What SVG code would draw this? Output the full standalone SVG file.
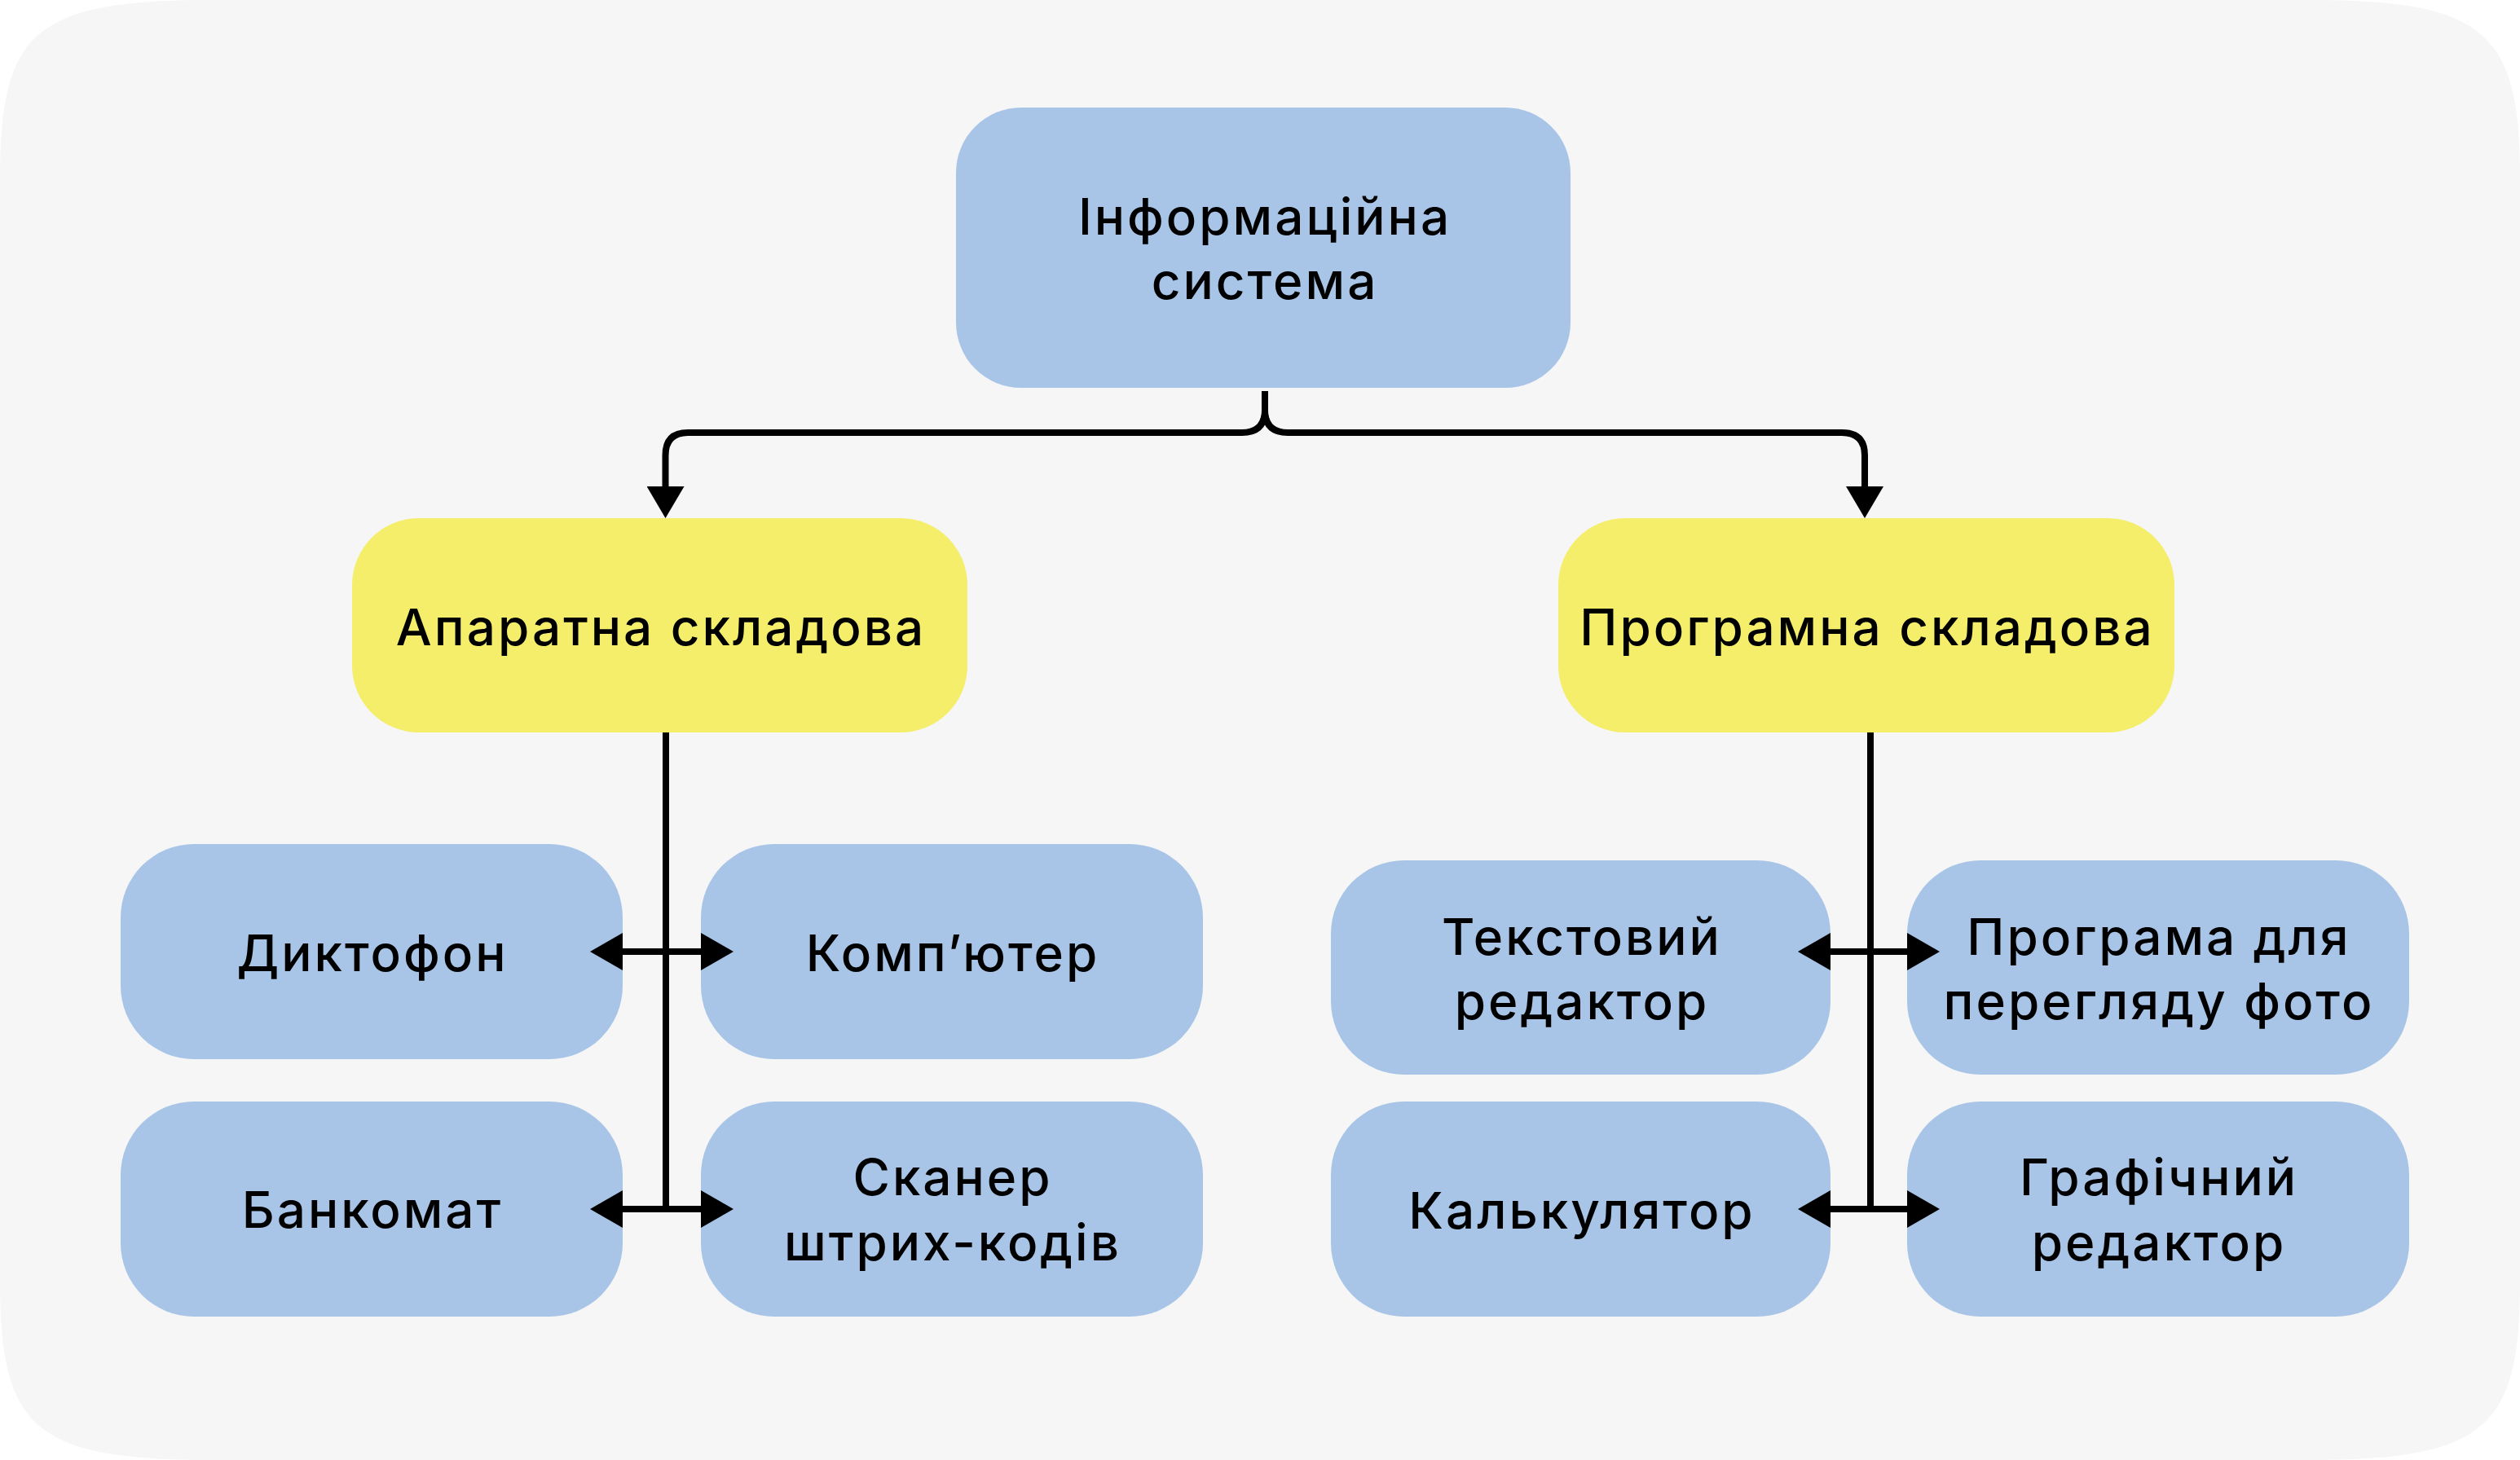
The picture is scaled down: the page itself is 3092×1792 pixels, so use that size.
<svg xmlns="http://www.w3.org/2000/svg" width="3092" height="1792" viewBox="0 0 3092 1792">
  <style>
    .bg { fill: #f6f6f6; }
    .blue { fill: #a8c5e8; }
    .yellow { fill: #f4ee6a; }
    .lbl { font-family: Inter, "Liberation Sans", "Noto Sans", sans-serif; font-size: 62px; font-weight: 500; letter-spacing: 3px; fill: #000; text-anchor: middle; }
    .conn { fill: none; stroke: #000; stroke-width: 8; }
  </style>
  <defs>
    <marker id="ah" markerUnits="userSpaceOnUse" markerWidth="40" markerHeight="46" refX="0" refY="23" orient="auto-start-reverse" viewBox="0 0 40 46">
      <path d="M0,0 L40,23 L0,46 Z" fill="#000"/>
    </marker>
    <marker id="ahd" markerUnits="userSpaceOnUse" markerWidth="39" markerHeight="46" refX="0" refY="23" orient="auto" viewBox="0 0 39 46">
      <path d="M0,0 L39,23 L0,46 Z" fill="#000"/>
    </marker>
  </defs>
  <rect width="3092" height="1792" fill="#ffffff"/>
  <path class="bg" d="M0,220 C0,40 40,0 260,0 H2832 C3052,0 3092,40 3092,220 V1572 C3092,1752 3052,1792 2832,1792 H260 C40,1792 0,1752 0,1572 Z"/>

  <g id="node-is">
    <rect class="blue" x="1173" y="132" width="754" height="344" rx="80" ry="80"/>
    <text class="lbl" x="1552" y="288">Інформаційна</text>
    <text class="lbl" x="1552" y="367">система</text>
  </g>
  <g id="node-hw">
    <rect class="yellow" x="432" y="636" width="755" height="263" rx="82" ry="82"/>
    <text class="lbl" x="811" y="792">Апаратна складова</text>
  </g>
  <g id="node-sw">
    <rect class="yellow" x="1912" y="636" width="756" height="263" rx="82" ry="82"/>
    <text class="lbl" x="2291" y="792">Програмна складова</text>
  </g>
  <g id="node-dictophone">
    <rect class="blue" x="148" y="1036" width="616" height="264" rx="90" ry="90"/>
    <text class="lbl" x="457" y="1192">Диктофон</text>
  </g>
  <g id="node-computer">
    <rect class="blue" x="860" y="1036" width="616" height="264" rx="90" ry="90"/>
    <text class="lbl" x="1169" y="1192">Комп’ютер</text>
  </g>
  <g id="node-atm">
    <rect class="blue" x="148" y="1352" width="616" height="264" rx="90" ry="90"/>
    <text class="lbl" x="457" y="1507">Банкомат</text>
  </g>
  <g id="node-scanner">
    <rect class="blue" x="860" y="1352" width="616" height="264" rx="90" ry="90"/>
    <text class="lbl" x="1169" y="1467">Сканер</text>
    <text class="lbl" x="1169" y="1547">штрих-кодів</text>
  </g>
  <g id="node-texteditor">
    <rect class="blue" x="1633" y="1056" width="613" height="263" rx="90" ry="90"/>
    <text class="lbl" x="1941" y="1172">Текстовий</text>
    <text class="lbl" x="1941" y="1251">редактор</text>
  </g>
  <g id="node-photoviewer">
    <rect class="blue" x="2340" y="1056" width="616" height="263" rx="90" ry="90"/>
    <text class="lbl" x="2649" y="1172">Програма для</text>
    <text class="lbl" x="2649" y="1251">перегляду фото</text>
  </g>
  <g id="node-calculator">
    <rect class="blue" x="1633" y="1352" width="613" height="264" rx="90" ry="90"/>
    <text class="lbl" x="1941" y="1508">Калькулятор</text>
  </g>
  <g id="node-graphiceditor">
    <rect class="blue" x="2340" y="1352" width="616" height="264" rx="90" ry="90"/>
    <text class="lbl" x="2649" y="1467">Графічний</text>
    <text class="lbl" x="2649" y="1547">редактор</text>
  </g>

  <g id="connectors">
    <path class="conn" d="M1552,480 V503 Q1552,531 1524,531 H844 Q816.5,531 816.5,559 V597" marker-end="url(#ahd)"/>
    <path class="conn" d="M1552,503 Q1552,531 1580,531 H2260 Q2288,531 2288,559 V597" marker-end="url(#ahd)"/>
    <path class="conn" d="M817,899 V1488"/>
    <path class="conn" d="M764,1168 H860" marker-start="url(#ah)" marker-end="url(#ah)"/>
    <path class="conn" d="M764,1484 H860" marker-start="url(#ah)" marker-end="url(#ah)"/>
    <path class="conn" d="M2295,899 V1488"/>
    <path class="conn" d="M2246,1168 H2340" marker-start="url(#ah)" marker-end="url(#ah)"/>
    <path class="conn" d="M2246,1484 H2340" marker-start="url(#ah)" marker-end="url(#ah)"/>
  </g>
</svg>
